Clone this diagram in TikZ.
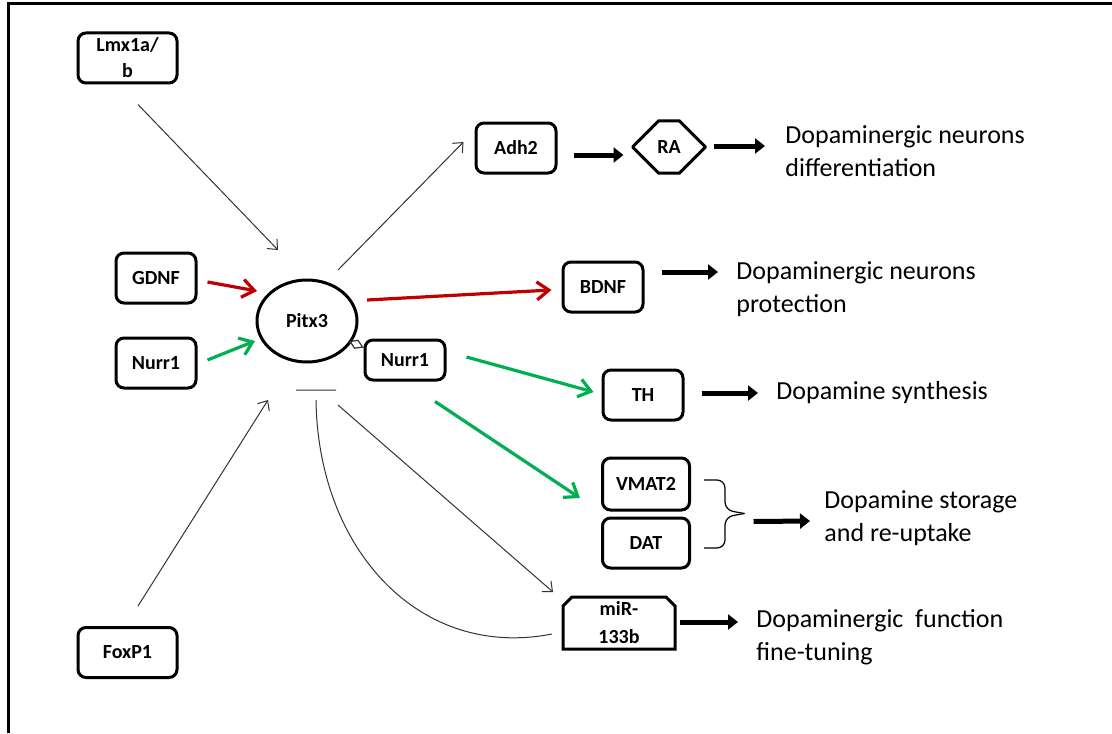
\documentclass[tikz,border=0pt]{standalone}
\usepackage{fontspec}
\setmainfont{Carlito}
\usetikzlibrary{arrows.meta,calc,shapes.geometric,shapes.misc}
\definecolor{gdnfcol}{HTML}{C00000}
\definecolor{nurrcol}{HTML}{00B050}
\definecolor{linkcol}{HTML}{333333}

\begin{document}
\begin{tikzpicture}[
  x=0.5pt, y=-0.5pt,
  gene/.style={
    draw, line width=1.5pt, rounded corners=4pt, fill=white,
    minimum width=40pt, minimum height=25pt, align=center, inner sep=2pt,
    font=\fontsize{10}{13}\selectfont\bfseries,
  },
  hexbox/.style={
    gene, rounded corners=0pt, chamfered rectangle, minimum width=36pt,
    chamfered rectangle xsep=5pt, chamfered rectangle ysep=12pt,
  },
  mirbox/.style={
    gene, draw=none, fill=none, inner sep=0pt, outer sep=0pt,
    minimum width=56pt, minimum height=26pt,
    font=\fontsize{10}{14}\selectfont\bfseries,
  },
  outcome/.style={anchor=west, align=left, inner sep=0pt,
    font=\fontsize{13}{16.5}\selectfont},
  link/.style={-{Straight Barb[length=4pt,width=7pt]}, line width=0.5pt, draw=linkcol},
  actarrow/.style={-{Straight Barb[length=6pt,width=9pt]}, line width=1.6pt, draw=#1},
  bigarrow/.style={-{Triangle[length=5pt,width=7.5pt]}, line width=2.5pt},
]

\useasboundingbox (0,0) rectangle (1112,733);
\draw[line width=1.5pt] (8,733) -- (8,4) -- (1112,4);

% ============================================================
% LEFT: upstream regulators of Pitx3
% ============================================================
\node[gene, minimum width=49.5pt] (lmx) at (127.5,58) {Lmx1a/\\b};
\node[gene] (gdnf) at (156,278) {GDNF};
\node[gene] (nurrL) at (156,363) {Nurr1};
\node[gene, minimum width=49.5pt] (foxp) at (127.5,652.5) {FoxP1};

\node[draw, ellipse, line width=1.5pt, minimum width=50pt, minimum height=41pt,
      font=\fontsize{10}{13}\selectfont\bfseries] (pitx) at (307,321) {Pitx3};
\node[gene, minimum height=20pt] (nurrR) at (405,360) {Nurr1};

\draw[link] ($(lmx.south)+(10.5,20)$) -- ($(pitx)+(-29,-71)$);
\draw[link] ($(foxp.north)+(10.5,-20)$) -- ($(pitx)+(-39,79)$);
\draw[actarrow=gdnfcol] ($(gdnf.east)+(10,4)$) -- ($(pitx)+(-50,-30)$);
\draw[actarrow=nurrcol] ($(nurrL.east)+(10,-3)$) -- ($(pitx)+(-52,20)$);
\draw[-{Diamond[open,length=8pt,width=5pt]}, line width=0.6pt, draw=linkcol]
  ($(nurrR.north west)+(0,9)$) -- ($(pitx)+(42,20)$);

% ============================================================
% RIGHT: Pitx3 targets
% ============================================================
\node[gene] (adh) at (516,148) {Adh2};
\node[hexbox] (ra) at (669,147) {RA};
\node[gene] (bdnf) at (603,287) {BDNF};
\node[gene] (th) at (643,395) {TH};
\node[gene, minimum width=43.5pt, minimum height=26pt] (vmat) at (646,484) {VMAT2};
\node[gene, minimum width=43.5pt] (dat) at (646,543) {DAT};
\node[mirbox] (mir) at (619,623) {miR-\\133b};
\draw[line width=1.5pt] (mir.south west) -- ($(mir.north west)+(0,9)$)
  -- ($(mir.north west)+(9,0)$) -- ($(mir.north east)+(-9,0)$)
  -- ($(mir.north east)+(0,9)$) -- (mir.south east) -- cycle;

\draw[link] ($(pitx)+(31,-51)$) -- ($(adh.west)+(-11,-6)$);
\draw[link] ($(pitx)+(31,84)$) -- ($(mir.west)+(-10,-31)$);
\draw[actarrow=gdnfcol] ($(pitx)+(60,-21)$) -- ($(bdnf.west)+(-10,3)$);
\draw[actarrow=nurrcol] ($(nurrR.east)+(20,-3)$) -- ($(th.west)+(-8,-3)$);
\draw[actarrow=nurrcol] ($(nurrR.south)+(30,20)$) -- ($(vmat.west)+(-21,14)$);

% miR-133b feedback on Pitx3 (blunt end)
\draw[line width=0.5pt, draw=linkcol]
  ($(mir.west)+(-11,11)$) .. controls ($(mir.west)+(-143,37)$) and ($(pitx)+(11,229)$)
  .. ($(pitx)+(9,79)$) ++(-20,-10) -- ++(40,0);

% Brace round VMAT2 / DAT
\coordinate (brtop) at ($(vmat.east)+(13,-4)$);
\coordinate (brbot) at ($(dat.east)+(13,5)$);
\coordinate (brtip) at ($(vmat.east)!0.5!(dat.east)+(53.5,0)$);
\draw[line width=0.6pt, rounded corners=4pt] (brtop) -- ++(21,0) -- ++(0,30) -- (brtip);
\draw[line width=0.6pt, rounded corners=4pt] (brbot) -- ++(21,0) -- ++(0,-31) -- (brtip);

% ============================================================
% OUTCOMES
% ============================================================
\node[outcome] (diff) at (785,151) {Dopaminergic neurons\\differentiation};
\node[outcome] (prot) at (736,289) {Dopaminergic neurons\\protection};
\node[outcome] (synth) at (776,393) {Dopamine synthesis};
\node[outcome] (store) at (824,518) {Dopamine storage\\and re-uptake};
\node[outcome] (tune) at (756,637) {Dopaminergic\ \ function\\fine-tuning};

\draw[bigarrow] ($(adh.east)+(16,7)$) -- ($(ra.west)+(-8,8)$);
\draw[bigarrow] ($(ra.east)+(7,-1)$) -- ($(diff.west)+(-20,-5)$);
\draw[bigarrow] ($(bdnf.east)+(17,-15)$) -- ($(prot.west)+(-18,-17)$);
\draw[bigarrow] ($(th.east)+(17,-2)$) -- ($(synth.west)+(-18,0)$);
\draw[bigarrow] ($(brtip)+(9,8)$) -- ($(store.west)+(-14,3)$);
\draw[bigarrow] ($(mir.east)+(5,-1)$) -- ($(tune.west)+(-18,-15)$);

\end{tikzpicture}
\end{document}
